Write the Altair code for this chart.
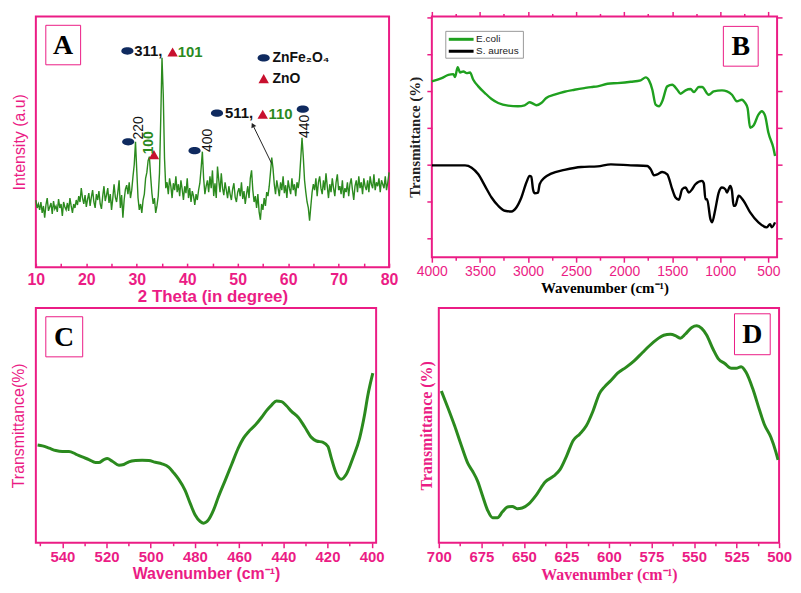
import altair as alt
import pandas as pd

PINK = "#eb1c85"
GREEN = "#2b8a1e"
GREEN_B = "#1fa01f"
NAVY = "#0f2a5f"
RED = "#c8102e"
SANS = "Liberation Sans"
SERIF = "Liberation Serif"

# ---------------- Panel A : XRD ----------------
xrd_start = 10.0
xrd_step = 0.25
xrd_intensity = [
    68, 60, 64, 58, 66, 55, 62, 50, 63,
    70, 57, 61, 65, 54, 67, 59, 62,
    56, 69, 60, 64, 52, 66, 61, 58,
    65, 57, 70, 62, 55, 64, 60, 68,
    63, 72, 66, 80, 70, 64, 73, 61,
    69, 75, 62, 71, 78, 66, 60, 74,
    68, 77, 64, 59, 72, 82, 67, 73,
    80, 65, 74, 58, 70, 84, 71, 66,
    76, 88, 60, 73, 50, 68, 79, 83,
    74, 86, 70, 78, 92, 104, 127, 98,
    70, 58, 64, 55, 68, 74, 90, 96,
    108, 112, 92, 75, 64, 70, 55, 62,
    72, 95, 150, 212, 175, 110, 80, 86,
    74, 90, 82, 70, 85, 78, 92, 76,
    84, 72, 88, 79, 68, 82, 75, 90,
    70, 80, 66, 77, 72, 63, 74, 68,
    78, 85, 100, 117, 90, 74, 82, 88,
    76, 92, 80, 98, 72, 85, 70, 102,
    88, 76, 95, 80, 73, 86, 78, 70,
    82, 74, 68, 79, 85, 71, 66, 76,
    80, 72, 86, 69, 77, 64, 74, 82,
    70, 90, 98, 78, 66, 72, 60, 74,
    56, 48, 64, 58, 70, 62, 76, 72,
    82, 96, 111, 100, 84, 74, 88, 80,
    72, 86, 78, 92, 75, 83, 70, 88,
    80, 74, 90, 78, 84, 72, 86, 80,
    90, 110, 131, 112, 88, 76, 66, 60,
    47, 62, 76, 84, 78, 90, 72, 86,
    92, 80, 74, 88, 78, 95, 82, 70,
    84, 76, 90, 80, 72, 86, 94, 78,
    82, 74, 88, 70, 80, 76, 86, 72,
    84, 90, 78, 68, 82, 88, 76, 92,
    80, 86, 74, 90, 82, 78, 88, 76,
    92, 84, 80, 94, 78, 86, 82, 90,
    76, 88, 84, 80, 92, 78, 86, 96,
]
xrd_theta = [xrd_start + xrd_step * i for i in range(len(xrd_intensity))]

znfe_theta = [28.14, 28.3, 41.45, 45.9, 62.9, 55.15]
znfe_int = [219, 127, 118, 156, 160, 212]
zno_theta = [37.1, 33.4, 54.96, 55.15]
zno_int = [218, 114, 155, 191]
black_lbl = ["311,", "511,"]
black_lbl_theta = [29.5, 47.5]
black_lbl_int = [219, 156]
green_lbl = ["101", "110"]
green_lbl_theta = [38.1, 56.1]
green_lbl_int = [218, 155]
legend_lbl = ["ZnFe\u2082O\u2084", "ZnO"]
legend_lbl_theta = [56.9, 56.9]
legend_lbl_int = [212, 191]
rot_lbl = ["220", "400", "440"]
rot_lbl_theta = [30.4, 44.2, 63.4]
rot_lbl_int = [141, 128.5, 142.5]
rot_green_lbl = ["100"]
rot_green_theta = [32.4]
rot_green_int = [126]
arrow_tail = (56.73, 105)
arrow_head = (53.0, 144)
boxA = (11.97, 18.87, 205, 245)
letterA = (15.4, 225)

# ---------------- Panel B : FTIR ----------------
b_ecoli_wn = [4000, 3897, 3828, 3776, 3759, 3731, 3707, 3672, 3638, 3603,
              3569, 3517, 3448, 3379, 3310, 3207, 3104, 3035, 2983, 2948,
              2914, 2862, 2810, 2724, 2621, 2517, 2414, 2345, 2276, 2173,
              2069, 1931, 1828, 1776, 1742, 1707, 1673, 1638, 1604, 1552,
              1500, 1448, 1414, 1362, 1310, 1276, 1224, 1190, 1121, 1069,
              983, 931, 879, 828, 776, 742, 717, 690, 655, 604,
              569, 535, 500, 449, 431]
b_ecoli_t = [176.7, 180, 183.3, 184, 181, 191, 185.7, 186.7, 185, 185.7,
             178.3, 171.7, 165, 159, 155, 152.3, 151.7, 152.7, 155.7, 154.3,
             152.7, 155, 160, 163.3, 166.3, 168.3, 170, 171, 171.7, 174.3,
             175, 176.3, 177.7, 180.7, 177.7, 168.3, 153.3, 151.7, 156.7, 171.7,
             173.3, 168.3, 164.3, 167.7, 169, 166, 171, 171, 163.3, 166.7,
             167.7, 166.7, 163.3, 156.7, 158.3, 155, 150, 130, 132.3, 143.3,
             146.7, 142.3, 125, 110, 101.7]
b_saureus_wn = [4000, 3655, 3586, 3517, 3448, 3379, 3310, 3241, 3172, 3121,
                3069, 3017, 2983, 2966, 2948, 2931, 2896, 2879, 2828, 2759,
                2621, 2448, 2276, 2138, 1931, 1759, 1724, 1690, 1655, 1604,
                1552, 1500, 1466, 1431, 1397, 1362, 1328, 1293, 1259, 1190,
                1172, 1155, 1138, 1103, 1086, 1052, 1017, 983, 948, 931,
                897, 879, 862, 845, 810, 759, 690, 604, 517, 483,
                466, 431]
b_saureus_t = [92.3, 92.3, 90, 83.3, 71.7, 60, 51.7, 46.7, 46, 50,
               60, 75, 81.7, 81, 68.3, 64.3, 65, 73.3, 80, 84,
               87.7, 90.7, 91.3, 93.3, 92.3, 91.7, 88.3, 82.3, 83.3, 85.7,
               83.3, 68.3, 60, 57.7, 68.3, 70, 65, 68.3, 73.3, 76.7,
               74.3, 58.3, 58.3, 38.3, 35, 48.3, 65, 70, 68.3, 65,
               71.7, 66.7, 51.7, 51.7, 61.7, 56.7, 45, 35, 30, 33.3,
               30, 35]
b_series = ["E.coli", "S. aureus"]
b_yticks = [19, 56, 93, 130, 167, 204, 241]
boxB = (968.6, 606.5, 192, 232)
letterB = (787.6, 212)
legB_box = (3855, 3048, 200, 227)
legB_line = (3824, 3566)
legB_text_x = 3540
legB_rows = [219, 207]

# ---------------- Panel C ----------------
c_wn = [551.2, 549.0, 546.0, 543.0, 540.0, 537.0, 534.0, 531.0, 528.0, 525.0,
        523.5, 521.2, 519.7, 517.4, 514.4, 512.2, 509.9, 506.9, 503.9, 500.9,
        497.9, 494.9, 491.9, 489.7, 487.4, 484.4, 482.1, 479.9, 477.6, 476.1,
        473.9, 471.6, 469.4, 466.4, 463.4, 460.4, 458.1, 455.8, 452.8, 449.8,
        447.6, 445.3, 443.1, 440.8, 438.6, 436.3, 433.3, 430.3, 427.3, 425.0,
        422.0, 419.8, 418.3, 416.0, 413.8, 411.5, 408.5, 405.5, 403.3, 401.8,
        399.5]
c_t = [100, 99, 96.7, 94.3, 93.3, 93.3, 90.7, 87.7, 85, 82,
       82, 85, 86, 83.3, 79.3, 80, 82.7, 84, 84.3, 84,
       82.3, 80.7, 77.3, 71.7, 65, 53.3, 40, 28.3, 21.7, 20,
       23.3, 33.3, 46.7, 63.3, 80, 96.7, 106.7, 113.3, 120, 128.3,
       135, 140.7, 145, 144.3, 140, 134.3, 128.3, 118.3, 107.7, 104,
       102.7, 98.3, 86.7, 70.7, 65, 70, 86.7, 106.7, 130, 150,
       173.3]
boxC = (547.5, 530.8, 190, 231)
letterC = (539.2, 210.5)

# ---------------- Panel D ----------------
d_wn = [698.5, 694.6, 690.7, 686.8, 683.0, 680.1, 677.2, 674.3, 671.3, 668.4,
        665.5, 662.6, 659.7, 656.8, 653.9, 651.0, 647.1, 642.3, 637.5, 632.6,
        628.8, 624.9, 621.0, 617.1, 613.3, 609.4, 605.5, 602.6, 598.7, 594.9,
        590.0, 585.2, 580.4, 576.5, 571.6, 567.8, 563.9, 561.0, 558.1, 555.2,
        551.3, 548.4, 545.5, 542.6, 538.7, 535.8, 531.9, 528.1, 525.2, 522.3,
        519.4, 515.5, 511.6, 508.7, 504.8, 501.9, 500.6]
d_t = [155.7, 138.3, 120, 100, 81.7, 73.3, 63.3, 48.3, 33.3, 25.7,
       25.7, 31.7, 36.7, 37.3, 35, 35.7, 40, 50, 62.3, 68.3,
       75, 89, 105, 111.7, 120, 135, 153.3, 160, 166.7, 174,
       180, 186.7, 195, 201.7, 209, 213, 214, 212.7, 210, 214,
       221, 222.7, 220, 213.3, 198.3, 189, 184, 179, 179, 180.7,
       175, 158.3, 136.7, 121.7, 108.3, 93.3, 85]
boxD = (526.2, 505.2, 193, 235)
letterD = (515.7, 214)

WN_TITLE = "Wavenumber (cm\u207b\u00b9)"


def box_layer(box, letter, xs, ys, name, xaxis=None, yaxis=None):
    bdf = pd.DataFrame({"x": [box[0]], "x2": [box[1]], "y": [box[2]], "y2": [box[3]]})
    rect = alt.Chart(bdf).mark_rect(fill="white", stroke=PINK, strokeWidth=1).encode(
        x=alt.X("x:Q", scale=xs, axis=xaxis), x2="x2:Q",
        y=alt.Y("y:Q", scale=ys, axis=yaxis), y2="y2:Q")
    ldf = pd.DataFrame({"x": [letter[0]], "y": [letter[1]], "t": [name]})
    txt = alt.Chart(ldf).mark_text(font=SERIF, fontSize=28, fontWeight="bold", color="black",
                                   baseline="middle", align="center", dy=1).encode(
        x=alt.X("x:Q", scale=xs, axis=None), y=alt.Y("y:Q", scale=ys, axis=None), text="t:N")
    return rect, txt


# ---------- Panel A chart ----------
xsA = alt.Scale(domain=[10, 80], nice=False, zero=False)
ysA = alt.Scale(domain=[0, 254], nice=False, zero=False)
dfA = pd.DataFrame({"x": xrd_theta, "y": xrd_intensity})
lineA = alt.Chart(dfA).mark_line(color=GREEN, strokeWidth=1.4).encode(
    x=alt.X("x:Q", scale=xsA, axis=alt.Axis(
        values=list(range(10, 81, 5)), labelExpr="datum.value % 10 === 0 ? datum.label : ''",
        offset=-4, tickSize=4, tickWidth=1.5, tickColor=PINK, domain=False, grid=False,
        labelPadding=4, labelFlush=False, labelFont=SANS, labelFontSize=16, labelFontWeight="bold",
        labelColor=PINK, title="2 Theta (in degree)", titleFont=SANS, titleFontSize=17,
        titleFontWeight="bold", titleColor=PINK, titlePadding=2)),
    y=alt.Y("y:Q", scale=ysA, axis=alt.Axis(
        labels=False, ticks=False, domain=False, grid=False, title="Intensity (a.u)",
        titleFont=SANS, titleFontSize=16, titleFontWeight="normal", titleColor=PINK, titlePadding=8)))

def ptsA(xv, yv):
    return pd.DataFrame({"x": xv, "y": yv})

ellA = alt.Chart(ptsA(znfe_theta, znfe_int)).mark_point(
    shape="M -1 0 A 1 0.6 0 1 0 1 0 A 1 0.6 0 1 0 -1 0 Z", filled=True, color=NAVY, size=150, opacity=1).encode(
    x=alt.X("x:Q", scale=xsA, axis=None), y=alt.Y("y:Q", scale=ysA, axis=None))
triA = alt.Chart(ptsA(zno_theta, zno_int)).mark_point(
    shape="triangle-up", filled=True, color=RED, size=110, opacity=1).encode(
    x=alt.X("x:Q", scale=xsA, axis=None), y=alt.Y("y:Q", scale=ysA, axis=None))

def txtA(labels, xv, yv, color, weight, angle=0, align="left", size=15):
    df = pd.DataFrame({"x": xv, "y": yv, "t": labels})
    kw = dict(font=SANS, fontSize=size, fontWeight=weight, color=color, align=align, baseline="middle")
    if angle:
        kw["angle"] = angle
    return alt.Chart(df).mark_text(**kw).encode(
        x=alt.X("x:Q", scale=xsA, axis=None), y=alt.Y("y:Q", scale=ysA, axis=None), text="t:N")

tA1 = txtA(black_lbl, black_lbl_theta, black_lbl_int, "#111111", "bold")
tA2 = txtA(green_lbl, green_lbl_theta, green_lbl_int, GREEN, "bold")
tA3 = txtA(legend_lbl, legend_lbl_theta, legend_lbl_int, "#111111", "bold", size=14)
tA4 = txtA(rot_lbl, rot_lbl_theta, rot_lbl_int, "#111111", "normal", angle=270, align="center", size=14)
tA5 = txtA(rot_green_lbl, rot_green_theta, rot_green_int, GREEN, "bold", angle=270, align="center", size=14)

arrowdf = pd.DataFrame({"x": [arrow_tail[0]], "y": [arrow_tail[1]],
                        "x2": [arrow_head[0]], "y2": [arrow_head[1]]})
arrowA = alt.Chart(arrowdf).mark_rule(color="#222222", strokeWidth=1).encode(
    x=alt.X("x:Q", scale=xsA, axis=None), y=alt.Y("y:Q", scale=ysA, axis=None), x2="x2:Q", y2="y2:Q")
headA = alt.Chart(pd.DataFrame({"x": [arrow_head[0]], "y": [arrow_head[1]]})).mark_point(
    shape="triangle-up", filled=True, color="#222222", size=30, angle=334, opacity=1, dy=3).encode(
    x=alt.X("x:Q", scale=xsA, axis=None), y=alt.Y("y:Q", scale=ysA, axis=None))
rA, lA = box_layer(boxA, letterA, xsA, ysA, "A")

panelA = alt.layer(lineA, ellA, triA, tA1, tA2, tA3, tA4, tA5, arrowA, headA, rA, lA).resolve_axis(
    x="independent", y="independent").properties(width=355, height=252)

# ---------- Panel B chart ----------
xsB = alt.Scale(domain=[4000, 410], nice=False, zero=False)
ysB = alt.Scale(domain=[0, 242], nice=False, zero=False)
colB = alt.Scale(domain=b_series, range=[GREEN_B, "#000000"])
dfB = pd.concat([
    pd.DataFrame({"x": b_ecoli_wn, "y": b_ecoli_t, "s": b_series[0], "o": range(len(b_ecoli_wn))}),
    pd.DataFrame({"x": b_saureus_wn, "y": b_saureus_t, "s": b_series[1], "o": range(len(b_saureus_wn))}),
])
b_xticks = list(range(4000, 249, -250))
tickcondB = {"condition": {"test": "datum.value % 500 === 0", "value": 5}, "value": 3}
lineB = alt.Chart(dfB).mark_line(strokeWidth=2.4, interpolate="monotone").encode(
    x=alt.X("x:Q", scale=xsB, axis=alt.Axis(
        values=b_xticks, format="d", labelExpr="datum.value % 500 === 0 ? datum.label : ''",
        tickSize=tickcondB, tickColor=PINK, tickWidth=1.5, domain=False, grid=False,
        labelPadding=2, labelFlush=False, labelFont=SANS, labelFontSize=14, labelColor=PINK,
        title=WN_TITLE, titleFont=SERIF, titleFontSize=15, titleFontWeight="bold",
        titleColor="black", titlePadding=2)),
    y=alt.Y("y:Q", scale=ysB, axis=alt.Axis(
        values=b_yticks, labels=False, tickSize=5, tickColor=PINK, tickWidth=1.5, domain=False,
        grid=False, title="Transmittance (%)", titleFont=SERIF, titleFontSize=15,
        titleFontWeight="bold", titleColor="#222222", titlePadding=4)),
    color=alt.Color("s:N", scale=colB, legend=None),
    order="o:Q")
rB, lB = box_layer(boxB, letterB, xsB, ysB, "B",
                   xaxis=alt.Axis(orient="top", values=b_xticks, labels=False, tickSize=tickcondB,
                                  tickColor=PINK, tickWidth=1.5, domain=False, grid=False, title=None),
                   yaxis=alt.Axis(orient="right", values=b_yticks, labels=False, tickSize=5,
                                  tickColor=PINK, tickWidth=1.5, domain=False, grid=False, title=None))
# manual legend for panel B
legbox = alt.Chart(pd.DataFrame({"x": [legB_box[0]], "x2": [legB_box[1]],
                                 "y": [legB_box[2]], "y2": [legB_box[3]]})).mark_rect(
    fill="white", stroke="#999999", strokeWidth=1).encode(
    x=alt.X("x:Q", scale=xsB, axis=None), x2="x2:Q", y=alt.Y("y:Q", scale=ysB, axis=None), y2="y2:Q")
legdf = pd.DataFrame({"x": [legB_line[0]] * 2, "x2": [legB_line[1]] * 2, "y": legB_rows,
                      "tx": [legB_text_x] * 2, "s": b_series})
leglines = alt.Chart(legdf).mark_rule(strokeWidth=3).encode(
    x=alt.X("x:Q", scale=xsB, axis=None), x2="x2:Q", y=alt.Y("y:Q", scale=ysB, axis=None),
    color=alt.Color("s:N", scale=colB, legend=None))
legtext = alt.Chart(legdf).mark_text(font=SANS, fontSize=10, color="#222222", align="left",
                                     baseline="middle").encode(
    x=alt.X("tx:Q", scale=xsB, axis=None), y=alt.Y("y:Q", scale=ysB, axis=None), text="s:N")
panelB = alt.layer(lineB, rB, lB, legbox, leglines, legtext).resolve_axis(
    x="independent", y="independent").properties(width=347, height=242)

# ---------- Panel C chart ----------
xsC = alt.Scale(domain=[552, 398], nice=False, zero=False)
ysC = alt.Scale(domain=[0, 240], nice=False, zero=False)
dfC = pd.DataFrame({"x": c_wn, "y": c_t, "o": range(len(c_wn))})
lineC = alt.Chart(dfC).mark_line(color=GREEN, strokeWidth=3, interpolate="monotone").encode(
    x=alt.X("x:Q", scale=xsC, axis=alt.Axis(
        values=list(range(550, 399, -10)), labelExpr="datum.value % 20 === 0 ? datum.label : ''",
        tickSize={"condition": {"test": "datum.value % 20 === 0", "value": 5}, "value": 3},
        tickColor=PINK, tickWidth=1.5, domain=False, grid=False, labelPadding=2, labelFlush=False,
        labelFont=SANS, labelFontSize=15, labelFontWeight="bold", labelColor=PINK,
        title=WN_TITLE, titleFont=SANS, titleFontSize=16, titleFontWeight="bold",
        titleColor=PINK, titlePadding=1)),
    y=alt.Y("y:Q", scale=ysC, axis=alt.Axis(
        labels=False, ticks=False, domain=False, grid=False, title="Transmittance(%)",
        titleFont=SANS, titleFontSize=16, titleFontWeight="normal", titleColor=PINK, titlePadding=9)),
    order="o:Q")
rC, lC = box_layer(boxC, letterC, xsC, ysC, "C")
panelC = alt.layer(lineC, rC, lC).resolve_axis(x="independent", y="independent").properties(
    width=342, height=236)

# ---------- Panel D chart ----------
xsD = alt.Scale(domain=[700, 500], nice=False, zero=False)
ysD = alt.Scale(domain=[0, 241], nice=False, zero=False)
dfD = pd.DataFrame({"x": d_wn, "y": d_t, "o": range(len(d_wn))})
d_xticks = [700 - 12.5 * i for i in range(17)]
lineD = alt.Chart(dfD).mark_line(color=GREEN, strokeWidth=3, interpolate="monotone").encode(
    x=alt.X("x:Q", scale=xsD, axis=alt.Axis(
        values=d_xticks, labelExpr="datum.value % 25 === 0 ? datum.label : ''",
        tickSize={"condition": {"test": "datum.value % 25 === 0", "value": 5}, "value": 3},
        tickColor=PINK, tickWidth=1.5, domain=False, grid=False, labelPadding=2, labelFlush=False,
        labelFont=SANS, labelFontSize=15, labelFontWeight="bold", labelColor=PINK,
        title=WN_TITLE, titleFont=SERIF, titleFontSize=16, titleFontWeight="bold",
        titleColor=PINK, titlePadding=2)),
    y=alt.Y("y:Q", scale=ysD, axis=alt.Axis(
        labels=False, ticks=False, domain=False, grid=False, title="Transmittance (%)",
        titleFont=SERIF, titleFontSize=16, titleFontWeight="bold", titleColor=PINK, titlePadding=4)),
    order="o:Q")
rD, lD = box_layer(boxD, letterD, xsD, ysD, "D")
panelD = alt.layer(lineD, rD, lD).resolve_axis(x="independent", y="independent").properties(
    width=342, height=236)

row1 = alt.hconcat(panelA, panelB, spacing=7)
row2 = alt.hconcat(panelC, panelD, spacing=32)
chart = alt.vconcat(row1, row2, spacing=1).properties(
    padding={"left": 2, "top": 0, "right": 0, "bottom": 0}
).configure_view(stroke=PINK, strokeWidth=2)

chart.save("out.html", embed_options={"renderer": "svg", "actions": False})
